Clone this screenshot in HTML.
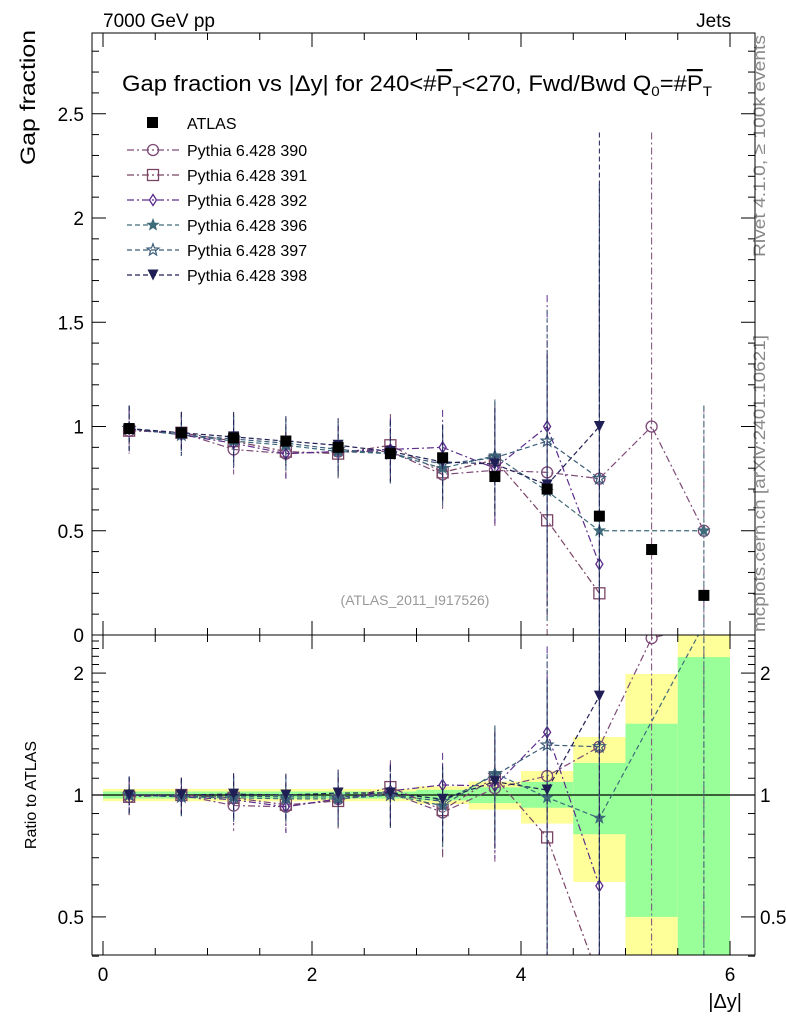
<!DOCTYPE html>
<html><head><meta charset="utf-8"><style>
html,body{margin:0;background:#fff;width:786px;height:1024px;overflow:hidden;}
svg{display:block;font-family:"Liberation Sans","DejaVu Sans",sans-serif;}
</style></head><body>
<svg id="c" width="786" height="1024" viewBox="0 0 786 1024">
<text x="103" y="27" font-size="19">7000 GeV pp</text>
<text x="731" y="27" font-size="19" text-anchor="end">Jets</text>
<text x="122" y="91" font-size="22" textLength="590" lengthAdjust="spacingAndGlyphs">Gap fraction vs |Δy| for 240&lt;#<tspan text-decoration="overline">P</tspan><tspan font-size="14" dy="5">T</tspan><tspan dy="-5">&lt;270, Fwd/Bwd Q</tspan><tspan font-size="14" dy="5">0</tspan><tspan dy="-5">=#</tspan><tspan text-decoration="overline">P</tspan><tspan font-size="14" dy="5">T</tspan></text>
<text x="415" y="605" font-size="14" fill="#999" text-anchor="middle">(ATLAS_2011_I917526)</text>
<text transform="translate(35,30) rotate(-90)" font-size="21" text-anchor="end" textLength="135" lengthAdjust="spacingAndGlyphs">Gap fraction</text>
<text transform="translate(36,795) rotate(-90)" font-size="16" text-anchor="middle">Ratio to ATLAS</text>
<text x="742" y="1008" font-size="20" text-anchor="end">|Δy|</text>
<text transform="translate(765,35) rotate(-90)" font-size="17" fill="#888" text-anchor="end" textLength="222" lengthAdjust="spacingAndGlyphs">Rivet 4.1.0, ≥ 100k events</text>
<text transform="translate(765,632) rotate(-90)" font-size="17" fill="#888" textLength="297" lengthAdjust="spacingAndGlyphs">mcplots.cern.ch [arXiv:2401.10621]</text>
</svg>
<script>
const bins=[0.25,0.75,1.25,1.75,2.25,2.75,3.25,3.75,4.25,4.75,5.25,5.75];
const binEdges=[0,0.5,1,1.5,2,2.5,3,3.5,4,4.5,5,5.5,6];
const atlasVals=[0.99,0.97,0.945,0.93,0.90,0.87,0.85,0.76,0.70,0.57,0.41,0.19];
const yelLo=[0.965,0.965,0.965,0.965,0.965,0.965,0.95,0.92,0.85,0.61,0.3,0.3];
const yelHi=[1.035,1.035,1.035,1.035,1.035,1.035,1.05,1.08,1.146,1.39,1.99,2.6];
const grnLo=[0.98,0.98,0.98,0.98,0.98,0.98,0.97,0.955,0.93,0.80,0.5,0.3];
const grnHi=[1.02,1.02,1.02,1.02,1.02,1.02,1.03,1.045,1.077,1.2,1.5,2.19];
const s390=[0.98,0.97,0.89,0.87,0.88,0.88,0.77,0.79,0.78,0.75,1.0,0.5];
const s391=[0.98,0.97,0.93,0.88,0.87,0.91,0.78,0.84,0.55,0.20,null,null];
const s392=[0.99,0.96,0.92,0.87,0.88,0.89,0.90,0.80,1.0,0.34,null,null];
const s396=[0.99,0.96,0.93,0.91,0.88,0.87,0.80,0.86,0.69,0.5,null,0.5];
const s397=[0.99,0.96,0.94,0.92,0.89,0.87,0.82,0.85,0.93,0.75,null,null];
const s398=[0.99,0.97,0.95,0.93,0.91,0.88,0.83,0.82,0.72,1.0,null,null];
const mcErr=[0.11,0.1,0.12,0.12,0.13,0.15,0.18,0.27,0.63,1.41,1.41,0.6];
const names=["Pythia 6.428 390","Pythia 6.428 391","Pythia 6.428 392","Pythia 6.428 396","Pythia 6.428 397","Pythia 6.428 398"];
const mainTicks=[0,0.5,1,1.5,2,2.5];
const mainTickLabels=["0","0.5","1","1.5","2","2.5"];
const ratioTicks=[0.5,1,2];
const xTicks=[0,2,4,6];

const series=[s390,s391,s392,s396,s397,s398];
const colors=["#7d4a78","#7a4565","#5b2c8c","#3f6c7a","#3b5c78","#1f1f55"];
const dashes=["7,3,2,3","7,3,2,3","7,3,2,3","5,3","5,3","5,3"];
const markers=["circle","square","diamond","star","ostar","tri"];
const NS="http://www.w3.org/2000/svg";
const svg=document.getElementById("c");
const L=92,R=755,T=33,M=635,B=955;
const X=v=>103+v*104.5;
const Y=v=>635-v*208.5;
const YR=v=>795-Math.log10(v)*405;
function el(tag,attrs,parent,text){const e=document.createElementNS(NS,tag);for(const k in attrs)e.setAttribute(k,attrs[k]);if(text!==undefined)e.textContent=text;(parent||svg).appendChild(e);return e;}
const defs=el("defs",{});
const cp1=el("clipPath",{id:"cm"},defs);el("rect",{x:L,y:T,width:R-L,height:M-T},cp1);
const cp2=el("clipPath",{id:"cr"},defs);el("rect",{x:L,y:M,width:R-L,height:B-M},cp2);
const gMain=el("g",{"clip-path":"url(#cm)"});


const gRat=el("g",{"clip-path":"url(#cr)"});



for(let i=0;i<bins.length;i++){
  const x0=X(binEdges[i]),x1=X(binEdges[i+1]);
  const y=el("rect",{x:x0,y:YR(yelHi[i]),width:x1-x0,height:YR(yelLo[i])-YR(yelHi[i]),fill:"#ffff99"},gRat);
  
  
  const g=el("rect",{x:x0,y:YR(grnHi[i]),width:x1-x0,height:YR(grnLo[i])-YR(grnHi[i]),fill:"#99ff99"},gRat);
  
  
}
el("line",{x1:L,x2:R,y1:YR(1),y2:YR(1),stroke:"#000","stroke-width":1.2},gRat);

function marker(g,type,x,y,c){
  const s=5.5;let m;
  if(type=="circle")m=el("circle",{cx:x,cy:y,r:s,fill:"none",stroke:c,"stroke-width":1.3},g);
  else if(type=="square")m=el("rect",{x:x-s,y:y-s,width:2*s,height:2*s,fill:"none",stroke:c,"stroke-width":1.3},g);
  else if(type=="diamond")m=el("polygon",{points:`${x},${y-s} ${x+3.5},${y} ${x},${y+s} ${x-3.5},${y}`,fill:"none",stroke:c,"stroke-width":1.3},g);
  else if(type=="tri")m=el("polygon",{points:`${x-s},${y-s} ${x+s},${y-s} ${x},${y+s}`,fill:c},g);
  else{let p=[];for(let k=0;k<10;k++){const r=k%2?2.6:6.2,a=-Math.PI/2+k*Math.PI/5;p.push((x+r*Math.cos(a)).toFixed(1)+","+(y+r*Math.sin(a)).toFixed(1));}
    m=el("polygon",{points:p.join(" "),fill:type=="star"?c:"none",stroke:c,"stroke-width":type=="star"?0.6:1.2},g);}
  return m;
}
function drawSeries(g,vals,err,ci,Yf,ratio){
  const c=colors[ci];
  let pts=[];
  for(let i=0;i<bins.length;i++){
    if(vals[i]==null)continue;
    let v=vals[i],lo=v-err[i],hi=v+err[i];
    if(ratio){v=v/atlasVals[i];lo=Math.max(lo/atlasVals[i],0.01);hi=hi/atlasVals[i];}
    pts.push([X(bins[i]),Yf(v)]);
    const eb=el("line",{x1:X(bins[i]),x2:X(bins[i]),y1:Yf(hi),y2:ratio?Yf(lo):Math.min(Yf(lo),700),stroke:c,"stroke-width":1,"stroke-dasharray":dashes[ci]},g);
    
    
  }
  const pl=el("polyline",{points:pts.map(p=>p.join(",")).join(" "),fill:"none",stroke:c,"stroke-width":1.2,"stroke-dasharray":dashes[ci]},g);
  
  
  for(const p of pts){const m=marker(g,markers[ci],p[0],p[1],c);
    
    }
}
for(let s=0;s<series.length;s++){drawSeries(gMain,series[s],mcErr,s,Y,false);drawSeries(gRat,series[s],mcErr,s,YR,true);}
for(let i=0;i<bins.length;i++){
  const x=X(bins[i]),y=Y(atlasVals[i]);
  const a=el("rect",{x:x-5.5,y:y-5.5,width:11,height:11,fill:"#000"},gMain);
  
  
}

el("rect",{x:L,y:T,width:R-L,height:M-T,fill:"none",stroke:"#000","stroke-width":1});
el("rect",{x:L,y:M,width:R-L,height:B-M,fill:"none",stroke:"#000","stroke-width":1});
for(let v=0;v<=2.85;v+=0.1){const y=Y(v);const maj=Math.abs(v*2-Math.round(v*2))<1e-6;const l=maj?14:7;
  el("line",{x1:L,x2:L+l,y1:y,y2:y,stroke:"#000"});el("line",{x1:R-l,x2:R,y1:y,y2:y,stroke:"#000"});}
mainTicks.forEach((v,i)=>{const t=el("text",{x:L-8,y:Y(v)+7,"text-anchor":"end","font-size":19},svg,mainTickLabels[i]);
  });
const rmin=[0.4,0.6,0.7,0.8,0.9,1.1,1.2,1.3,1.4,1.5,1.6,1.7,1.8,1.9,2.1,2.2,2.3,2.4];
rmin.forEach(v=>{const y=YR(v);el("line",{x1:L,x2:L+7,y1:y,y2:y,stroke:"#000"});el("line",{x1:R-7,x2:R,y1:y,y2:y,stroke:"#000"});});
ratioTicks.forEach(v=>{const y=YR(v);el("line",{x1:L,x2:L+14,y1:y,y2:y,stroke:"#000"});el("line",{x1:R-14,x2:R,y1:y,y2:y,stroke:"#000"});
  const a=el("text",{x:L-8,y:y+7,"text-anchor":"end","font-size":19},svg,String(v));
  const b=el("text",{x:R+5,y:y+7,"font-size":19},svg,String(v));});
for(let v=0;v<=6.01;v+=0.5){const x=X(v);const maj=Math.abs(v-Math.round(v/2)*2)<1e-6;const l=maj?14:7;
  [[T,1],[M,-1],[M,1],[B,-1]].forEach(([y0,d])=>el("line",{x1:x,x2:x,y1:y0,y2:y0+d*l,stroke:"#000"}));}
xTicks.forEach(v=>{const t=el("text",{x:X(v),y:B+26,"text-anchor":"middle","font-size":19},svg,String(v));});

const lg=el("g",{});
el("rect",{x:147,y:117,width:11,height:11,fill:"#000"},lg);
el("text",{x:187,y:129,"font-size":16},lg,"ATLAS");
names.forEach((n,i)=>{const y=150+i*25;
  el("line",{x1:127,x2:179,y1:y,y2:y,stroke:colors[i],"stroke-width":1.2,"stroke-dasharray":dashes[i]},lg);
  marker(lg,markers[i],153,y,colors[i]);
  const t=el("text",{x:187,y:y+6,"font-size":16},lg,n);});
</script>
</body></html>
